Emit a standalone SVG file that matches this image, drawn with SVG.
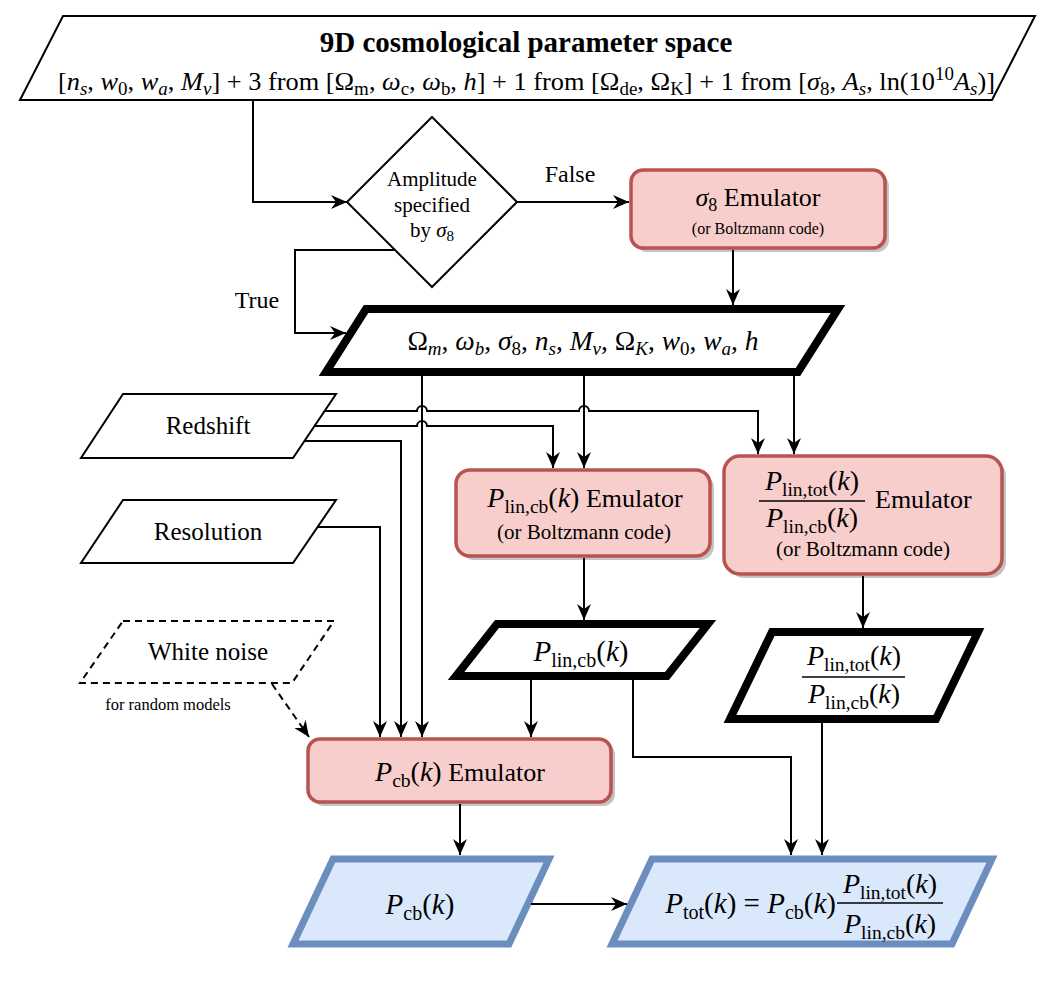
<svg xmlns="http://www.w3.org/2000/svg" width="1056" height="981" viewBox="0 0 1056 981" font-family="'Liberation Serif', 'DejaVu Serif', 'Noto Serif', 'Times New Roman', serif">
<defs>
<marker id="arr" markerUnits="userSpaceOnUse" markerWidth="16" markerHeight="14" viewBox="0 0 16 14" refX="16" refY="7" orient="auto"><path d="M0,0 L16,7 L0,14 L5,7 Z" fill="#000"/></marker>
</defs>
<style>
text{fill:#000}
.i{font-style:italic}
.c{text-anchor:middle}
.thin{fill:#fff;stroke:#000;stroke-width:2}
.dash{fill:#fff;stroke:#000;stroke-width:2;stroke-dasharray:7 5}
.thick{fill:#fff;stroke:#000;stroke-width:8;stroke-linejoin:miter}
.pink{fill:#f8cecc;stroke:#b85450;stroke-width:3.5}
.shadow{fill:#c4c4c4}
.blue{fill:#dae8fc;stroke:#6c8ebf;stroke-width:7;stroke-linejoin:miter}
.conn{fill:none;stroke:#000;stroke-width:2}
.arr{marker-end:url(#arr)}
.bar{stroke:#000;stroke-width:1.5}
</style>
<rect width="1056" height="981" fill="#fff"/>

<g id="param-space">
<polygon class="thin" points="63,16 1035,16 992,100 20,100"/>
<text x="526" y="52" class="c" font-weight="bold" font-size="29">9D cosmological parameter space</text>
<text x="58" y="90" font-size="25" textLength="937" lengthAdjust="spacingAndGlyphs">[<tspan class="i">n</tspan><tspan font-size="18" dy="5" class="i">s</tspan><tspan dy="-5">, </tspan><tspan class="i">w</tspan><tspan font-size="18" dy="5">0</tspan><tspan dy="-5">, </tspan><tspan class="i">w</tspan><tspan font-size="18" dy="5" class="i">a</tspan><tspan dy="-5">, </tspan><tspan class="i">M</tspan><tspan font-size="18" dy="5" class="i">ν</tspan><tspan dy="-5">] + 3 from [Ω</tspan><tspan font-size="18" dy="5">m</tspan><tspan dy="-5">, </tspan><tspan class="i">ω</tspan><tspan font-size="18" dy="5">c</tspan><tspan dy="-5">, </tspan><tspan class="i">ω</tspan><tspan font-size="18" dy="5">b</tspan><tspan dy="-5">, </tspan><tspan class="i">h</tspan><tspan>] + 1 from [Ω</tspan><tspan font-size="18" dy="5">de</tspan><tspan dy="-5">, Ω</tspan><tspan font-size="18" dy="5">K</tspan><tspan dy="-5">] + 1 from [</tspan><tspan class="i">σ</tspan><tspan font-size="18" dy="5">8</tspan><tspan dy="-5">, </tspan><tspan class="i">A</tspan><tspan font-size="18" dy="5" class="i">s</tspan><tspan dy="-5">, ln(10</tspan><tspan font-size="18" dy="-10">10</tspan><tspan dy="10" class="i">A</tspan><tspan font-size="18" dy="5" class="i">s</tspan><tspan dy="-5">)]</tspan></text>
</g>

<g id="amplitude-decision">
<polygon class="thin" points="432,117 517,202 432,287 347,202"/>
<text x="432" y="186" class="c" font-size="21">Amplitude</text>
<text x="432" y="212" class="c" font-size="21">specified</text>
<text x="432" y="237" class="c" font-size="21">by <tspan class="i">σ</tspan><tspan font-size="15" dy="4">8</tspan></text>
</g>

<g id="sigma8-emulator">
<rect class="shadow" x="635" y="174" width="254" height="78" rx="12"/>
<rect class="pink" x="631" y="170" width="254" height="78" rx="12"/>
<text x="758" y="206" class="c" font-size="26"><tspan class="i">σ</tspan><tspan font-size="18" dy="5">8</tspan><tspan dy="-5"> Emulator</tspan></text>
<text x="758" y="234" class="c" font-size="16">(or Boltzmann code)</text>
</g>

<g id="cosmo-params">
<polygon class="thick" points="366,309 838,309 798,372 326,372"/>
<text x="583" y="350" class="c" font-size="27.5">Ω<tspan font-size="19" dy="5" class="i">m</tspan><tspan dy="-5">, </tspan><tspan class="i">ω</tspan><tspan font-size="19" dy="5" class="i">b</tspan><tspan dy="-5">, </tspan><tspan class="i">σ</tspan><tspan font-size="19" dy="5">8</tspan><tspan dy="-5">, </tspan><tspan class="i">n</tspan><tspan font-size="19" dy="5" class="i">s</tspan><tspan dy="-5">, </tspan><tspan class="i">M</tspan><tspan font-size="19" dy="5" class="i">ν</tspan><tspan dy="-5">, Ω</tspan><tspan font-size="19" dy="5" class="i">K</tspan><tspan dy="-5">, </tspan><tspan class="i">w</tspan><tspan font-size="19" dy="5">0</tspan><tspan dy="-5">, </tspan><tspan class="i">w</tspan><tspan font-size="19" dy="5" class="i">a</tspan><tspan dy="-5">, </tspan><tspan class="i">h</tspan></text>
</g>

<g id="redshift">
<polygon class="thin" points="123,394 336,394 293,458 81,458"/>
<text x="208" y="434" class="c" font-size="25">Redshift</text>
</g>

<g id="resolution">
<polygon class="thin" points="123,500 336,500 293,563 81,563"/>
<text x="208" y="540" class="c" font-size="25">Resolution</text>
</g>

<g id="white-noise">
<polygon class="dash" points="123,621 334,621 292,683 80,683"/>
<text x="208" y="660" class="c" font-size="25">White noise</text>
<text x="168" y="710" class="c" font-size="16.5">for random models</text>
</g>

<g id="plin-cb-emulator">
<rect class="shadow" x="460" y="474" width="254" height="86" rx="14"/>
<rect class="pink" x="456" y="470" width="254" height="86" rx="14"/>
<text x="585" y="507" class="c" font-size="28"><tspan class="i">P</tspan><tspan font-size="19.5" dy="6">lin,cb</tspan><tspan dy="-6">(</tspan><tspan class="i">k</tspan><tspan>)</tspan><tspan font-size="26"> Emulator</tspan></text>
<text x="584" y="539" class="c" font-size="21">(or Boltzmann code)</text>
</g>

<g id="ratio-emulator">
<rect class="shadow" x="728" y="460" width="278" height="118" rx="16"/>
<rect class="pink" x="724" y="456" width="278" height="118" rx="16"/>
<text x="812" y="490" class="c" font-size="28"><tspan class="i">P</tspan><tspan font-size="19.5" dy="6">lin,tot</tspan><tspan dy="-6">(</tspan><tspan class="i">k</tspan><tspan>)</tspan></text>
<line class="bar" x1="759" y1="501" x2="865" y2="501"/>
<text x="812" y="527" class="c" font-size="28"><tspan class="i">P</tspan><tspan font-size="19.5" dy="6">lin,cb</tspan><tspan dy="-6">(</tspan><tspan class="i">k</tspan><tspan>)</tspan></text>
<text x="875" y="508" font-size="26">Emulator</text>
<text x="863" y="556" class="c" font-size="21">(or Boltzmann code)</text>
</g>

<g id="plin-cb-output">
<polygon class="thick" points="497,624 708,624 667,676 456,676"/>
<text x="581" y="661" class="c" font-size="29"><tspan class="i">P</tspan><tspan font-size="20" dy="6">lin,cb</tspan><tspan dy="-6">(</tspan><tspan class="i">k</tspan><tspan>)</tspan></text>
</g>

<g id="ratio-output">
<polygon class="thick" points="772,632 978,632 936,719 730,719"/>
<text x="854" y="665" class="c" font-size="28"><tspan class="i">P</tspan><tspan font-size="19.5" dy="6">lin,tot</tspan><tspan dy="-6">(</tspan><tspan class="i">k</tspan><tspan>)</tspan></text>
<line class="bar" x1="802" y1="677" x2="905" y2="677"/>
<text x="854" y="703" class="c" font-size="28"><tspan class="i">P</tspan><tspan font-size="19.5" dy="6">lin,cb</tspan><tspan dy="-6">(</tspan><tspan class="i">k</tspan><tspan>)</tspan></text>
</g>

<g id="pcb-emulator">
<rect class="shadow" x="312" y="743" width="303" height="63" rx="12"/>
<rect class="pink" x="308" y="739" width="303" height="63" rx="12"/>
<text x="460" y="781" class="c" font-size="28"><tspan class="i">P</tspan><tspan font-size="19.5" dy="6">cb</tspan><tspan dy="-6">(</tspan><tspan class="i">k</tspan><tspan>)</tspan><tspan font-size="26"> Emulator</tspan></text>
</g>

<g id="pcb-output">
<polygon class="blue" points="333,859 549,859 509,944 293,944"/>
<text x="420" y="914" class="c" font-size="29"><tspan class="i">P</tspan><tspan font-size="20" dy="6">cb</tspan><tspan dy="-6">(</tspan><tspan class="i">k</tspan><tspan>)</tspan></text>
</g>

<g id="ptot-output">
<polygon class="blue" points="652,859 992,859 952,944 612,944"/>
<text x="836" y="913" font-size="29" text-anchor="end"><tspan class="i">P</tspan><tspan font-size="20" dy="6">tot</tspan><tspan dy="-6">(</tspan><tspan class="i">k</tspan><tspan>) = </tspan><tspan class="i">P</tspan><tspan font-size="20" dy="6">cb</tspan><tspan dy="-6">(</tspan><tspan class="i">k</tspan><tspan>)</tspan></text>
<text x="890" y="893" class="c" font-size="28"><tspan class="i">P</tspan><tspan font-size="19.5" dy="6">lin,tot</tspan><tspan dy="-6">(</tspan><tspan class="i">k</tspan><tspan>)</tspan></text>
<line class="bar" x1="837" y1="903" x2="943" y2="903"/>
<text x="890" y="933" class="c" font-size="28"><tspan class="i">P</tspan><tspan font-size="19.5" dy="6">lin,cb</tspan><tspan dy="-6">(</tspan><tspan class="i">k</tspan><tspan>)</tspan></text>
</g>

<g id="connectors">
<path class="conn arr" d="M253,100 V202 H347"/>
<path class="conn arr" d="M517,202 H629"/>
<text x="570" y="182" class="c" font-size="24">False</text>
<path class="conn arr" d="M733,250 V305"/>
<path class="conn arr" d="M395,250 H295 V333 H346"/>
<text x="257" y="308" class="c" font-size="24">True</text>
<path class="conn arr" d="M422,376 V737"/>
<path class="conn arr" d="M584,376 V468"/>
<path class="conn arr" d="M794,376 V454"/>
<path class="conn arr" d="M325,411 H417 A5,5 0 0,1 427,411 H579 A5,5 0 0,1 589,411 H758 V454"/>
<path class="conn arr" d="M315,426 H417 A5,5 0 0,1 427,426 H553 V468"/>
<path class="conn arr" d="M304,441 H401 V737"/>
<path class="conn arr" d="M318,527 H380 V737"/>
<path class="conn arr" stroke-dasharray="7 5" d="M272,684 L309,737"/>
<path class="conn arr" d="M584,558 V620"/>
<path class="conn arr" d="M531,680 V737"/>
<path class="conn arr" d="M633,680 V757 H791 V855"/>
<path class="conn arr" d="M863,576 V628"/>
<path class="conn arr" d="M822,723 V855"/>
<path class="conn arr" d="M460,804 V855"/>
<path class="conn arr" d="M531,904 H627"/>
</g>
</svg>
